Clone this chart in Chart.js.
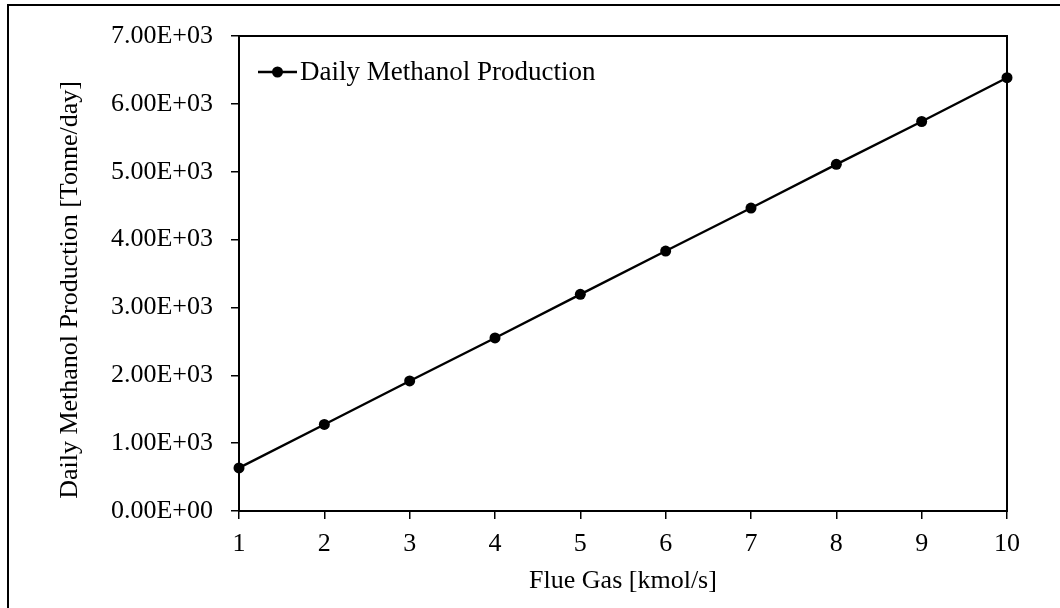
<!DOCTYPE html>
<html>
<head>
<meta charset="utf-8">
<script src="https://cdn.jsdelivr.net/npm/chart.js@4/dist/chart.umd.min.js"></script>
<style>
  html, body { margin: 0; padding: 0; background: #fff; overflow: hidden; }
  #wrap { position: relative; width: 1060px; height: 608px; overflow: hidden; }
  #frame { position: absolute; left: 7px; top: 4px; width: 1100px; height: 700px;
           border: 2px solid #000; box-sizing: border-box; pointer-events: none; }
  canvas { position: absolute; left: 0; top: 0; }
</style>
</head>
<body>
<div id="wrap">
  <canvas id="c" width="1060" height="608"></canvas>
  <div id="frame"></div>
</div>
<script>
// Flue gas feed rate [kmol/s]
const flueGas = [1, 2, 3, 4, 5, 6, 7, 8, 9, 10];
// Daily methanol production [Tonne/day]
const methanolPerDay = [635, 1275, 1916, 2550, 3193, 3831, 4465, 5109, 5740, 6385];
// Y tick labels, scientific notation
const yTickLabels = ['0.00E+00', '1.00E+03', '2.00E+03', '3.00E+03',
                     '4.00E+03', '5.00E+03', '6.00E+03', '7.00E+03'];

const seriesName = 'Daily Methanol Production';
const xTitle = 'Flue Gas [kmol/s]';
const yTitle = 'Daily Methanol Production [Tonne/day]';

const FONT_FAMILY = '"Liberation Serif", "Times New Roman", serif';
const tickFont = { family: FONT_FAMILY, size: 26 };
const INK = '#000';

// Box around the plotting area
const plotFrame = {
  id: 'plotFrame',
  beforeDatasetsDraw(chart) {
    const { ctx, chartArea: a } = chart;
    ctx.save();
    ctx.strokeStyle = INK;
    ctx.lineWidth = 2;
    ctx.strokeRect(a.left, a.top, a.right - a.left, a.bottom - a.top);
    ctx.restore();
  }
};

// Rotated y-axis title
const yAxisTitle = {
  id: 'yAxisTitle',
  afterDraw(chart) {
    const { ctx } = chart;
    ctx.save();
    ctx.translate(70, 290);
    ctx.rotate(-Math.PI / 2);
    ctx.font = '26px ' + FONT_FAMILY;
    ctx.fillStyle = INK;
    ctx.textAlign = 'center';
    ctx.textBaseline = 'middle';
    ctx.fillText(yTitle, 0, 0);
    ctx.restore();
  }
};

// In-plot legend: line with marker, then the series name
const insetLegend = {
  id: 'insetLegend',
  afterDatasetsDraw(chart) {
    const { ctx, chartArea: a } = chart;
    const ds = chart.data.datasets[0];
    const y = a.top + 36;
    const x0 = a.left + 19, x1 = a.left + 58;
    ctx.save();
    ctx.strokeStyle = ds.borderColor;
    ctx.lineWidth = ds.borderWidth;
    ctx.beginPath();
    ctx.moveTo(x0, y);
    ctx.lineTo(x1, y);
    ctx.stroke();
    ctx.fillStyle = ds.pointBackgroundColor;
    ctx.beginPath();
    ctx.arc((x0 + x1) / 2, y, ds.pointRadius, 0, Math.PI * 2);
    ctx.fill();
    ctx.font = '27px ' + FONT_FAMILY;
    ctx.fillStyle = INK;
    ctx.textAlign = 'left';
    ctx.textBaseline = 'middle';
    ctx.fillText(ds.label, x1 + 3, y + 1);
    ctx.restore();
  }
};

new Chart(document.getElementById('c'), {
  type: 'line',
  data: {
    datasets: [{
      label: seriesName,
      data: flueGas.map((x, i) => ({ x: x, y: methanolPerDay[i] })),
      borderColor: INK,
      backgroundColor: INK,
      borderWidth: 2.4,
      pointRadius: 5.5,
      pointBackgroundColor: INK,
      pointBorderWidth: 0,
      tension: 0,
      clip: false
    }]
  },
  options: {
    responsive: false,
    animation: false,
    devicePixelRatio: 1,
    layout: { padding: { top: 36, right: 53, bottom: 0, left: 0 } },
    plugins: { legend: { display: false }, tooltip: { enabled: false } },
    scales: {
      x: {
        type: 'linear',
        min: 1,
        max: 10,
        ticks: { stepSize: 1, font: tickFont, color: INK, padding: 10, maxRotation: 0 },
        grid: { display: true, drawOnChartArea: false, drawTicks: true, tickLength: 8,
                color: INK, lineWidth: 1.5 },
        border: { display: true, color: INK, width: 2 },
        title: { display: true, text: xTitle, color: INK,
                 font: { family: FONT_FAMILY, size: 26 }, padding: { top: 0, bottom: 11 } },
        afterFit(scale) { scale.height = 97; }
      },
      y: {
        type: 'linear',
        min: 0,
        max: 7000,
        ticks: {
          stepSize: 1000,
          font: tickFont,
          color: INK,
          padding: 18,
          callback: (value, index) => yTickLabels[index]
        },
        grid: { display: true, drawOnChartArea: false, drawTicks: true, tickLength: 8,
                color: INK, lineWidth: 1.5 },
        border: { display: true, color: INK, width: 2 },
        afterFit(scale) { scale.width = 239; }
      }
    }
  },
  plugins: [plotFrame, insetLegend, yAxisTitle]
});
</script>
</body>
</html>
